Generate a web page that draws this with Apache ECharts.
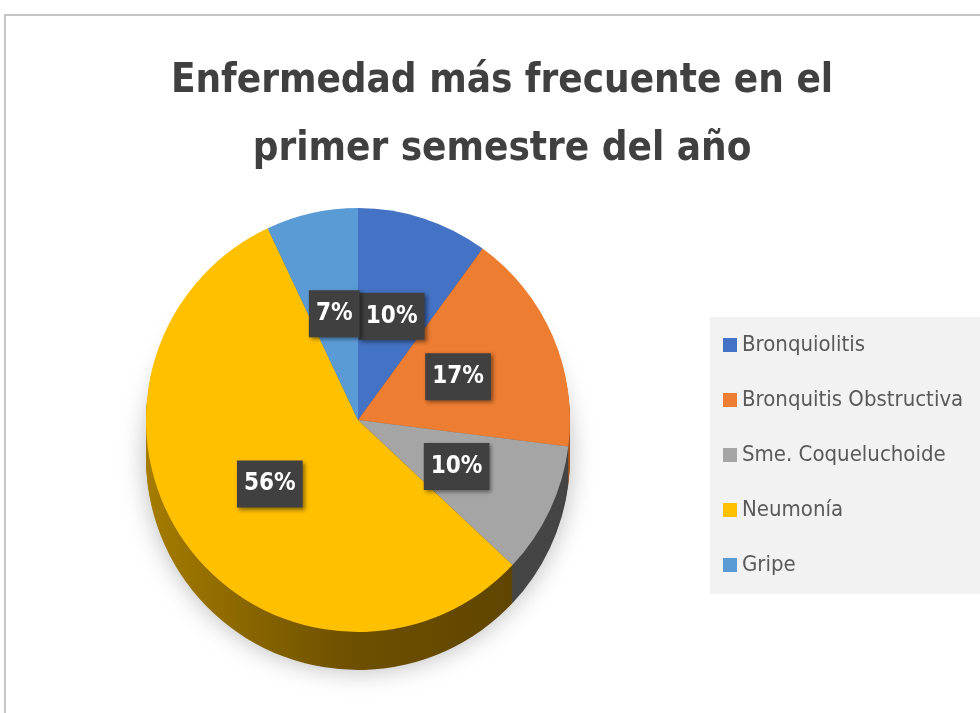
<!DOCTYPE html>
<html>
<head>
<meta charset="utf-8">
<script src="https://cdn.jsdelivr.net/npm/echarts@6/dist/echarts.min.js"></script>
<style>
  html, body { margin: 0; padding: 0; background: #fff; }
  #chart { width: 980px; height: 713px; }
</style>
</head>
<body>
<div id="chart"></div>
<script>
// datos del grafico
const categories = ['Bronquiolitis', 'Bronquitis Obstructiva', 'Sme. Coqueluchoide', 'Neumonía', 'Gripe']
const values = [10, 17, 10, 56, 7]
const topColors = ['#4472C4', '#ED7D31', '#A5A5A5', '#FFC000', '#5B9BD5']
const sideColors = ['#2c4d8a', '#a4531d', '#454545', '#8a6600', '#3b6c99']

const chart = echarts.init(document.getElementById('chart'))
const center = [358, 420]
const radius = 212
const depth = 38
const fontName = "'DejaVu Sans Condensed', 'Liberation Sans Narrow', 'Open Sans', sans-serif"

const pieData = (colors, isSide) => categories.map((name, i) => {
  let color = colors[i]
  if (isSide && name === 'Neumonía') {
    color = new echarts.graphic.LinearGradient(0, 0, 1, 0, [
      { offset: 0, color: '#a57c00' },
      { offset: 0.55, color: '#6e5000' },
      { offset: 1, color: '#5f4500' }
    ])
  }
  return { name, value: values[i], itemStyle: { color } }
})

const series = []
// cara superior
series.push({
  name: 'top',
  type: 'pie',
  z: 3,
  center,
  radius,
  startAngle: 90,
  clockwise: true,
  percentPrecision: 0,
  avoidLabelOverlap: false,
  minShowLabelAngle: 0,
  animation: false,
  data: pieData(topColors, false),
  itemStyle: { borderWidth: 0 },
  labelLayout: { hideOverlap: false },
  label: {
    show: true,
    position: 'inside',
    formatter: '{d}%',
    color: '#fff',
    fontFamily: fontName,
    fontWeight: 'bold',
    fontSize: 24,
    backgroundColor: '#404040',
    padding: [12, 7, 11, 7],
    shadowBlur: 4,
    shadowOffsetX: 2,
    shadowOffsetY: 2,
    shadowColor: 'rgba(0,0,0,0.45)'
  },
  labelLine: { show: false },
  emphasis: { disabled: true }
})
// lado 3d, capas desplazadas hacia abajo
for (let k = depth; k > 0; k -= 2) {
  series.push({
    name: 'side' + k,
    type: 'pie',
    z: 2,
    silent: true,
    center: [center[0], center[1] + k],
    radius,
    startAngle: 90,
    clockwise: true,
    animation: false,
    data: pieData(sideColors, true),
    itemStyle: k === depth ? {
      shadowBlur: 26,
      shadowColor: 'rgba(0,0,0,0.28)'
    } : {},
    label: { show: false },
    labelLine: { show: false },
    emphasis: { disabled: true }
  })
}

chart.setOption({
  backgroundColor: '#fff',
  title: {
    text: 'Enfermedad más frecuente en el\nprimer semestre del año',
    left: 502,
    top: 48,
    padding: 0,
    textAlign: 'center',
    textStyle: {
      fontFamily: fontName,
      fontWeight: 'bold',
      fontSize: 40,
      lineHeight: 68,
      color: '#404040'
    }
  },
  legend: {
    orient: 'vertical',
    left: 710,
    top: 317,
    padding: [13, 40, 14, 13],
    backgroundColor: '#f2f2f2',
    itemWidth: 14,
    itemHeight: 14,
    itemGap: 25,
    icon: 'rect',
    selectedMode: false,
    data: categories.map((name, i) => ({ name, itemStyle: { color: topColors[i] } })),
    textStyle: {
      fontFamily: fontName,
      fontSize: 22,
      lineHeight: 30,
      color: '#595959'
    }
  },
  graphic: [{
    type: 'rect',
    shape: { x: 5, y: 15, width: 1000, height: 720 },
    style: { fill: null, stroke: '#c6c6c6', lineWidth: 2 },
    silent: true
  }],
  series
})
</script>
</body>
</html>
